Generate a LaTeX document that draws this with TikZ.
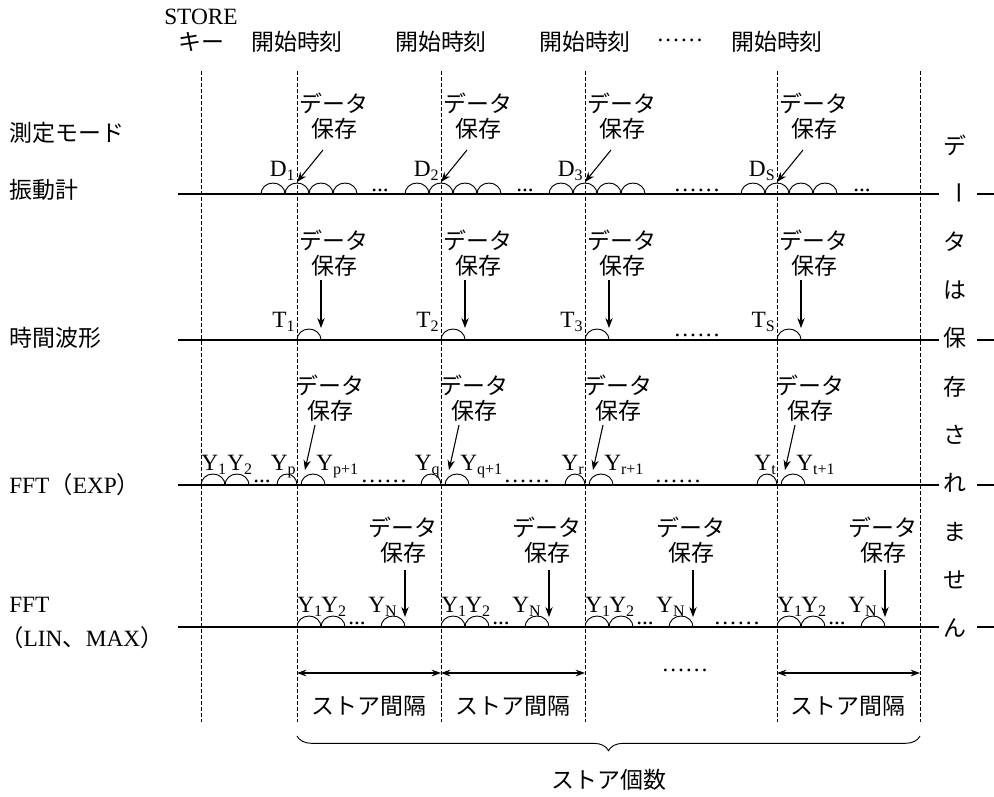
\documentclass[tikz,border=0pt]{standalone}
\usepackage{fontspec}
\setmainfont{Liberation Serif}
\newfontfamily\jp{Noto Sans CJK JP}
\usetikzlibrary{arrows.meta,decorations.pathreplacing}
\newcommand\sbx[1]{\raisebox{-3pt}{\fontsize{12}{12}\selectfont #1}}
\begin{document}
\begin{tikzpicture}[x=0.75pt,y=-0.75pt,
  lat/.style={font=\fontsize{17.5}{19}\selectfont, inner sep=0pt},
  jtxt/.style={font=\jp\fontsize{17.2}{18.75}\selectfont, inner sep=0pt, align=center},
  vline/.style={line width=0.7pt, dash pattern=on 3pt off 1.5pt},
  hline/.style={line width=1.7pt},
  hump/.style={line width=0.7pt},
  arr/.style={line width=0.8pt, -{Stealth[length=7.5pt,width=5.5pt]}},
  darr/.style={line width=0.8pt, {Stealth[length=7pt,width=5pt]}-{Stealth[length=7pt,width=5pt]}},
  brc/.style={line width=0.7pt, decorate, decoration={brace, mirror, amplitude=11pt}},
]
\useasboundingbox (0,0) rectangle (994,796);

% vertical dashed lines
\foreach \x [count=\i] in {201,297,441,585,777,920} {
  \coordinate (vt\i) at (\x,71);
  \coordinate (vb\i) at (\x,722);
  \draw[vline] (vt\i) -- (vb\i);
}
% horizontal lines
\foreach \y [count=\i] in {194,340,485,627} {
  \coordinate (hl\i) at (178,\y); \coordinate (hr\i) at (939,\y);
  \draw[hline] (hl\i) -- (hr\i);
  \coordinate (sl\i) at (977,\y); \coordinate (sr\i) at (994,\y);
  \draw[hline] (sl\i) -- (sr\i);
}

% top labels
\node[lat, anchor=west] (store) at (164,17) {STORE};
\node[jtxt] (key) at (201,42) {キー};
\foreach \x [count=\i] in {297,441,585,777}
  \node[jtxt] (start\i) at (\x,42) {開始時刻};
\node[lat] (topdots) at (680,40) {……};

% left labels
\node[jtxt, anchor=west] (mode) at (9,133) {測定モード};
\node[jtxt, anchor=west] (m1) at (9,190) {振動計};
\node[jtxt, anchor=west] (m2) at (9,338) {時間波形};
\node[lat, anchor=west] (m3) at (9,485) {FFT{\jp（}EXP{\jp）}};
\node[lat, anchor=west] (m4a) at (9,605) {FFT};
\node[lat, anchor=west] (m4b) at (0,638) {{\jp（}LIN{\jp、}MAX{\jp）}};

% right vertical text
\foreach \c/\yy [count=\i] in {デ/145,タ/242,は/290,保/338,存/387,さ/435,れ/483,ま/532,せ/580,ん/628}
  \node[jtxt] (r\i) at (955,\yy) {\c};
\node[jtxt, rotate=-90] (rbar) at (955,193) {ー};

% row 1
\foreach \v/\s [count=\i] in {297/1,441/2,585/3,777/S} {
  \node[lat, anchor=base east] (D\i) at (\v-2,176) {D\sbx{\s}};
  \node[jtxt] (dl\i) at (\v+37,116) {データ\\保存};
  \coordinate (da\i) at (\v+26,150);
  \coordinate (dt\i) at (\v,182);
  \draw[arr] (da\i) -- (dt\i);
  \foreach \k in {-36,-12,12,36}
    \draw[hump] (\v+\k,194) arc[start angle=180,end angle=0,x radius=9pt,y radius=8.25pt];
}
\node[lat, anchor=base] (d1dots) at (380,191) {...};
\node[lat, anchor=base] (d2dots) at (525,191) {...};
\node[lat, anchor=base] (d3dots) at (697,191) {……};
\node[lat, anchor=base] (d4dots) at (862,191) {...};

% row 2
\foreach \v/\s [count=\i] in {297/1,441/2,585/3,777/S} {
  \node[lat, anchor=base east] (T\i) at (\v-2,327) {T\sbx{\s}};
  \node[jtxt] (tl\i) at (\v+37,253) {データ\\保存};
  \coordinate (ta\i) at (\v+24,280);
  \coordinate (tt\i) at (\v+24,328);
  \draw[arr] (ta\i) -- (tt\i);
  \draw[hump] (\v,340) arc[start angle=180,end angle=0,x radius=9pt,y radius=8.25pt];
}
\node[lat, anchor=base] (tdots) at (697,336) {……};

% row 3
\draw[hump] (201,485) arc[start angle=180,end angle=0,x radius=9pt,y radius=8.25pt];
\draw[hump] (225,485) arc[start angle=180,end angle=0,x radius=9pt,y radius=8.25pt];
\node[lat, anchor=base west] (y1) at (201,470) {Y\sbx{1}};
\node[lat, anchor=base west] (y2) at (227,470) {Y\sbx{2}};
\node[lat, anchor=base] (edots0) at (262,482) {...};
\foreach \v/\a/\b [count=\i] in {297/p/p+1,441/q/q+1,585/r/r+1,777/t/t+1} {
  \draw[hump] (\v-20,485) arc[start angle=180,end angle=0,x radius=7.5pt,y radius=8.25pt];
  \draw[hump] (\v+4,485) arc[start angle=180,end angle=0,x radius=9pt,y radius=8.25pt];
  \node[lat, anchor=base east] (ya\i) at (\v-1,470) {Y\sbx{\a}};
  \node[lat, anchor=base west] (yb\i) at (\v+19,470) {Y\sbx{\b}};
  \node[jtxt] (el\i) at (\v+33,398) {データ\\保存};
  \coordinate (ea\i) at (\v+18,425);
  \coordinate (et\i) at (\v+8,470);
  \draw[arr] (ea\i) -- (et\i);
}
\node[lat, anchor=base] (edots1) at (384,482) {……};
\node[lat, anchor=base] (edots2) at (527,482) {……};
\node[lat, anchor=base] (edots3) at (678,482) {……};

% row 4
\foreach \v [count=\i] in {297,441,585,777} {
  \foreach \k in {0,24,84}
    \draw[hump] (\v+\k,627) arc[start angle=180,end angle=0,x radius=9pt,y radius=8.25pt];
  \node[lat, anchor=base west] (la\i) at (\v,612) {Y\sbx{1}};
  \node[lat, anchor=base west] (lb\i) at (\v+24,612) {Y\sbx{2}};
  \node[lat, anchor=base west] (ln\i) at (\v+71,612) {Y\sbx{N}};
  \node[lat, anchor=base] (ldots\i) at (\v+60,624) {...};
  \node[jtxt] (ll\i) at (\v+106,540) {データ\\保存};
  \coordinate (lta\i) at (\v+108,570);
  \coordinate (ltt\i) at (\v+108,617);
  \draw[arr] (lta\i) -- (ltt\i);
}
\node[lat, anchor=base] (ldotsm) at (737,624) {……};

% bottom intervals
\foreach \x [count=\i] in {297,441,585,777,920}
  \coordinate (b\i) at (\x,673);
\draw[darr] (b1) -- (b2);
\draw[darr] (b2) -- (b3);
\draw[darr] (b4) -- (b5);
\node[lat, anchor=base] (bdots) at (685,671) {……};
\node[jtxt] (si1) at (369,706) {ストア間隔};
\node[jtxt] (si2) at (513,706) {ストア間隔};
\node[jtxt] (si3) at (848,706) {ストア間隔};
\coordinate (brl) at (297,736);
\coordinate (brr) at (920,736);
\draw[brc] (brl) -- (brr);
\node[jtxt] (count) at (609,780) {ストア個数};
\end{tikzpicture}
\end{document}
